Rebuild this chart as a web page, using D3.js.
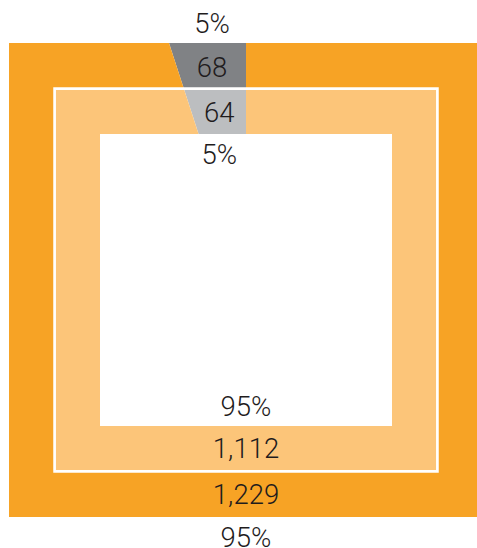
<!DOCTYPE html>
<html>
<head>
<meta charset="utf-8">
<script src="https://cdn.jsdelivr.net/npm/d3@7"></script>
<style>
  body { margin: 0; background: #fff; }
  text { font-family: Roboto, "Liberation Sans", sans-serif; font-weight: 300; fill: #1f1c1d; }
</style>
</head>
<body>
<svg id="chart" width="477" height="548"></svg>
<script>
// data
var categories = ['gray', 'orange'];
var outerValues = [68, 1229];
var innerValues = [64, 1112];
var sharePercents = [5, 95];
var percentLabels = ['5%', '95%'];

/*************************************************************************/

var svg = d3.select('#chart');
var cx = 246, cy = 280;

// square "radii" (half sides) of the rings
var rOuter = 237, rMid = 191.4, rInner = 146;

var colors = {
  outer: { gray: '#808285', orange: '#f7a325' },
  inner: { gray: '#bcbec0', orange: '#fcc579' }
};

var pie = d3.pie().sort(null).sortValues(null).value(d => d)
  .startAngle(0).endAngle(-2 * Math.PI);
var slices = pie(sharePercents);
var arc = d3.arc().innerRadius(0).outerRadius(600);

function squarePath(r){
  return 'M' + (-r) + ',' + (-r) + 'H' + r + 'V' + r + 'H' + (-r) + 'Z';
}

var defs = svg.append('defs');
var origin = svg.append('g').attr('transform', 'translate(' + cx + ',' + cy + ')');

var rings = [
  { name: 'outer', values: outerValues, r0: rMid, r1: rOuter },
  { name: 'inner', values: innerValues, r0: rInner, r1: rMid }
];

rings.forEach(ring => {
  defs.append('clipPath').attr('id', 'clip-' + ring.name)
    .append('path')
    .attr('d', squarePath(ring.r1) + squarePath(ring.r0))
    .attr('clip-rule', 'evenodd');

  origin.append('g').attr('clip-path', 'url(#clip-' + ring.name + ')')
    .selectAll('path').data(slices).enter().append('path')
    .attr('d', arc)
    .attr('fill', (d, i) => colors[ring.name][categories[i]]);
});

// white border between the rings
origin.append('path').attr('d', squarePath(rMid))
  .attr('fill', 'none').attr('stroke', '#fff').attr('stroke-width', 2.7);

// labels
function labelPos(angle, r){
  var s = Math.sin(angle), c = -Math.cos(angle);
  var k = r / Math.max(Math.abs(s), Math.abs(c));
  return [s * k, c * k];
}

rings.forEach(ring => {
  var rm = (ring.r0 + ring.r1) / 2;
  var rp = ring.name == 'outer' ? ring.r1 + 20 : ring.r0 - 20;
  slices.forEach((d, i) => {
    var angle = i == 0 ? (d.startAngle + d.endAngle) / 2 : Math.PI;
    var p = labelPos(angle, rm);
    var q = labelPos(angle, rp);
    origin.append('text')
      .attr('x', p[0]).attr('y', p[1] + (i == 0 ? 1.5 : 0))
      .attr('dy', '0.35em').attr('text-anchor', 'middle')
      .style('font-size', '27.5px')
      .text(d3.format(',')(ring.values[i]));
    origin.append('text')
      .attr('x', p[0]).attr('y', q[1])
      .attr('dy', '0.35em').attr('text-anchor', 'middle')
      .style('font-size', '27.5px')
      .text(percentLabels[i]);
  });
});
</script>
</body>
</html>
